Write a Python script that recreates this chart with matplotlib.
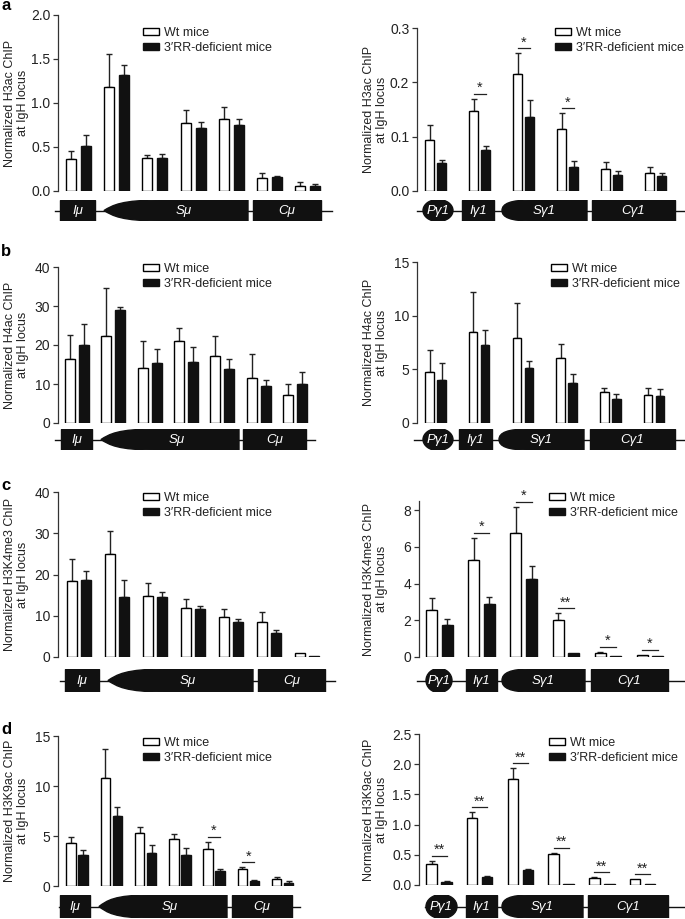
import matplotlib.pyplot as plt
import numpy as np
from matplotlib.patches import Rectangle, Ellipse, PathPatch
from matplotlib.path import Path

plt.rcParams['font.family'] = ['Liberation Sans', 'DejaVu Sans']

W, H = 685, 919

series_labels = ['Wt mice', '3\u2032RR-deficient mice']

# a - H3ac
h3ac_mu_wt = [0.36, 1.18, 0.375, 0.77, 0.82, 0.145, 0.053]
h3ac_mu_wt_err = [0.10, 0.38, 0.03, 0.15, 0.14, 0.065, 0.047]
h3ac_mu_ko = [0.515, 1.32, 0.37, 0.72, 0.755, 0.155, 0.053]
h3ac_mu_ko_err = [0.125, 0.11, 0.05, 0.06, 0.065, 0.012, 0.022]

h3ac_g1_wt = [0.093, 0.147, 0.216, 0.115, 0.040, 0.033]
h3ac_g1_wt_err = [0.028, 0.023, 0.038, 0.028, 0.013, 0.012]
h3ac_g1_ko = [0.052, 0.076, 0.136, 0.045, 0.030, 0.028]
h3ac_g1_ko_err = [0.005, 0.006, 0.032, 0.011, 0.006, 0.006]
h3ac_g1_sig = ['', '*', '*', '*', '', '']

# b - H4ac
h4ac_mu_wt = [16.3, 22.2, 14.2, 21.1, 17.2, 11.5, 7.2]
h4ac_mu_wt_err = [6.2, 12.5, 6.7, 3.3, 5.1, 6.2, 2.8]
h4ac_mu_ko = [19.9, 29.1, 15.5, 15.7, 13.8, 9.5, 9.9]
h4ac_mu_ko_err = [5.5, 0.7, 3.4, 3.8, 2.6, 1.4, 3.2]

h4ac_g1_wt = [4.72, 8.45, 7.89, 6.09, 2.92, 2.61]
h4ac_g1_wt_err = [2.11, 3.75, 3.26, 1.30, 0.34, 0.65]
h4ac_g1_ko = [4.04, 7.27, 5.12, 3.73, 2.27, 2.52]
h4ac_g1_ko_err = [1.55, 1.36, 0.69, 0.80, 0.46, 0.68]

# c - H3K4me3
h3k4_mu_wt = [18.5, 25.0, 14.85, 11.9, 9.8, 8.5, 0.9]
h3k4_mu_wt_err = [5.3, 5.6, 3.15, 2.1, 1.9, 2.3, 0]
h3k4_mu_ko = [18.7, 14.6, 14.6, 11.6, 8.5, 5.9, 0.25]
h3k4_mu_ko_err = [2.1, 4.1, 1.2, 0.8, 0.7, 0.75, 0]

h3k4_g1_wt = [2.58, 5.29, 6.75, 2.0, 0.24, 0.13]
h3k4_g1_wt_err = [0.66, 1.22, 1.45, 0.4, 0.05, 0]
h3k4_g1_ko = [1.75, 2.89, 4.24, 0.24, 0.05, 0.03]
h3k4_g1_ko_err = [0.32, 0.38, 0.74, 0, 0, 0]
h3k4_g1_sig = ['', '*', '*', '**', '*', '*']

# d - H3K9ac
h3k9_mu_wt = [4.28, 10.79, 5.31, 4.68, 3.67, 1.67, 0.67]
h3k9_mu_wt_err = [0.66, 2.91, 0.6, 0.56, 0.77, 0.2, 0.27]
h3k9_mu_ko = [3.07, 6.98, 3.27, 3.07, 1.5, 0.47, 0.3]
h3k9_mu_ko_err = [0.57, 0.94, 0.8, 0.74, 0.24, 0.16, 0.2]
h3k9_mu_sig = ['', '', '', '', '*', '*', '']

h3k9_g1_wt = [0.343, 1.106, 1.753, 0.514, 0.116, 0.10]
h3k9_g1_wt_err = [0.061, 0.105, 0.177, 0.023, 0.017, 0]
h3k9_g1_ko = [0.055, 0.133, 0.249, 0.022, 0.011, 0.011]
h3k9_g1_ko_err = [0.011, 0.011, 0.011, 0, 0, 0]
h3k9_g1_sig = ['**'] * 6

mu_labels = ['I\u03bc', 'S\u03bc', 'C\u03bc']
g1_labels = ['P\u03b31', 'I\u03b31', 'S\u03b31', 'C\u03b31']

TXT = '#222222'
fig = plt.figure(figsize=(W / 100, H / 100), dpi=100)


def px_axes(x0, y0, x1, y1):
    return fig.add_axes([x0 / W, 1 - y1 / H, (x1 - x0) / W, (y1 - y0) / H])


def bar_panel(x0, ytop, ybot, c0, step, bw, off, wt, wt_err, ko, ko_err,
              ytop_val, yticks, fmt, ylabel, label_x, leg_x, leg_y, sig=None):
    n = len(wt)
    left = (x0 - c0) / step
    right = n - 0.5
    ax = px_axes(x0, ytop, x0 + (right - left) * step, ybot)
    x = np.arange(n)
    bwd, offd = bw / step, off / step
    ax.bar(x - offd, wt, bwd, color='white', edgecolor='black', lw=1.0,
           label=series_labels[0], zorder=2)
    ax.bar(x + offd, ko, bwd, color='#111111', edgecolor='#111111', lw=1.0,
           label=series_labels[1], zorder=2)
    for xs, v, e in [(x - offd, wt, wt_err), (x + offd, ko, ko_err)]:
        v, e = np.array(v), np.array(e)
        m = e > 0
        ax.errorbar(xs[m], v[m], yerr=[np.zeros(m.sum()), e[m]], fmt='none',
                    ecolor='#222222', elinewidth=1.0, capsize=2, capthick=1.0,
                    zorder=1)
    ax.set_xlim(left, right)
    ax.set_ylim(0, ytop_val)
    ax.set_yticks(yticks)
    ax.set_yticklabels([fmt.format(t) for t in yticks])
    ax.set_xticks([])
    for s in ['top', 'right', 'bottom']:
        ax.spines[s].set_visible(False)
    ax.spines['left'].set_color('#333333')
    ax.spines['left'].set_linewidth(0.9)
    ax.tick_params(axis='y', direction='out', length=3.5, width=0.9,
                   labelsize=10, pad=2, colors='#333333', labelcolor=TXT)
    ax.set_ylabel(ylabel, fontsize=9, color=TXT, linespacing=1.1)
    ax.yaxis.set_label_coords(label_x / W, 1 - (ytop + ybot) / 2 / H,
                              transform=fig.transFigure)
    ax.legend(loc='upper left', bbox_to_anchor=(leg_x / W, 1 - leg_y / H),
              bbox_transform=fig.transFigure, frameon=False, fontsize=9,
              handlelength=1.25, handleheight=0.55, handletextpad=0.45,
              labelspacing=0.25, borderpad=0, borderaxespad=0,
              labelcolor=TXT)
    if sig:
        dy = 5 * ytop_val / (ybot - ytop)
        for i, s in enumerate(sig):
            if not s:
                continue
            top = max(wt[i] + wt_err[i], ko[i] + ko_err[i])
            y = top + dy
            ax.plot([i - offd, i + offd], [y, y], color='#222222', lw=0.9)
            ax.text(i, y + 0.3 * dy, s, ha='center', va='baseline',
                    fontsize=10.5, color=TXT)
    return ax


def gene_panel(xa, xb, gy0, gy1, line, parts):
    ax = px_axes(xa, gy0, xb, gy1)
    ax.set_xlim(xa, xb)
    ax.set_ylim(-1, 1)
    ax.axis('off')
    ax.plot(line, [0, 0], color='#111111', lw=1.0, zorder=1, clip_on=False)
    for kind, label, s, e in parts:
        L = e - s
        cx = (s + e) / 2
        if kind == 'box':
            ax.add_patch(Rectangle((s, -1), L, 2, color='#111111', zorder=2))
        elif kind == 'oval':
            ax.add_patch(Ellipse((cx, 0), L, 2.1, color='#111111', zorder=2))
        else:
            k = 0.4 if kind == 'switch' else 0.35
            t1, t2 = (0.06, 0.12) if kind == 'switch' else (0.0, 0.1)
            c1 = 0.5 if kind == 'switch' else 0.65
            verts = [(s, 0), (s + t1 * L, c1), (s + t2 * L, 1), (s + k * L, 1),
                     (e, 1), (e, -1), (s + k * L, -1),
                     (s + t2 * L, -1), (s + t1 * L, -c1), (s, 0), (s, 0)]
            codes = [Path.MOVETO, Path.CURVE4, Path.CURVE4, Path.CURVE4,
                     Path.LINETO, Path.LINETO, Path.LINETO,
                     Path.CURVE4, Path.CURVE4, Path.CURVE4, Path.CLOSEPOLY]
            ax.add_patch(PathPatch(Path(verts, codes), color='#111111', zorder=2))
            if kind == 'switch':
                cx = cx + 0.05 * L
        ax.text(cx, -0.05, label, color='white', fontstyle='italic', fontsize=9.5,
                ha='center', va='center', zorder=3)
    return ax


# panel a
bar_panel(58, 15, 191, 78.5, 38.2, 10, 7.5, h3ac_mu_wt, h3ac_mu_wt_err,
          h3ac_mu_ko, h3ac_mu_ko_err, 2.0, [0, 0.5, 1.0, 1.5, 2.0], '{:.1f}',
          'Normalized H3ac ChIP\nat IgH locus', 29, 143, 27)
gene_panel(0, 340, 200, 221, [55, 332],
           [('box', mu_labels[0], 60, 95), ('switch', mu_labels[1], 104, 248),
            ('box', mu_labels[2], 253, 321)])
bar_panel(417, 28, 191, 435.5, 44, 9, 6, h3ac_g1_wt, h3ac_g1_wt_err,
          h3ac_g1_ko, h3ac_g1_ko_err, 0.3, [0, 0.1, 0.2, 0.3], '{:.1f}',
          'Normalized H3ac ChIP\nat IgH locus', 388, 555, 27, h3ac_g1_sig)
gene_panel(340, 685, 200, 221, [417, 685],
           [('oval', g1_labels[0], 423, 453), ('box', g1_labels[1], 462, 494),
            ('sg', g1_labels[2], 502, 587), ('box', g1_labels[3], 592, 675)])

# panel b
bar_panel(58, 267, 423, 77, 36.3, 10, 7, h4ac_mu_wt, h4ac_mu_wt_err,
          h4ac_mu_ko, h4ac_mu_ko_err, 40, [0, 10, 20, 30, 40], '{:.0f}',
          'Normalized H4ac ChIP\nat IgH locus', 29, 143, 263)
gene_panel(0, 340, 429, 450, [55, 315],
           [('box', mu_labels[0], 61, 92), ('switch', mu_labels[1], 101, 239),
            ('box', mu_labels[2], 243, 306)])
bar_panel(417, 262, 423, 435.5, 43.7, 8.5, 6, h4ac_g1_wt, h4ac_g1_wt_err,
          h4ac_g1_ko, h4ac_g1_ko_err, 15, [0, 5, 10, 15], '{:.0f}',
          'Normalized H4ac ChIP\nat IgH locus', 388, 551, 263)
gene_panel(340, 685, 429, 450, [414, 685],
           [('oval', g1_labels[0], 423, 453), ('box', g1_labels[1], 459, 492),
            ('sg', g1_labels[2], 499, 584), ('box', g1_labels[3], 590, 675)])

# panel c
bar_panel(58, 492, 657, 78.5, 38.1, 10, 7, h3k4_mu_wt, h3k4_mu_wt_err,
          h3k4_mu_ko, h3k4_mu_ko_err, 40, [0, 10, 20, 30, 40], '{:.0f}',
          'Normalized H3K4me3 ChIP\nat IgH locus', 29, 143, 492)
gene_panel(0, 340, 669, 692, [60, 335],
           [('box', mu_labels[0], 65, 99), ('switch', mu_labels[1], 108, 253),
            ('box', mu_labels[2], 258, 325)])
bar_panel(419, 501, 657, 439.5, 42.1, 11, 7.8, h3k4_g1_wt, h3k4_g1_wt_err,
          h3k4_g1_ko, h3k4_g1_ko_err, 8.5, [0, 2, 4, 6, 8], '{:.0f}',
          'Normalized H3K4me3 ChIP\nat IgH locus', 388, 549, 492, h3k4_g1_sig)
gene_panel(340, 685, 669, 692, [417, 685],
           [('oval', g1_labels[0], 426, 452), ('box', g1_labels[1], 466, 497),
            ('sg', g1_labels[2], 502, 585), ('box', g1_labels[3], 591, 668)])

# panel d
bar_panel(58, 736, 886, 77, 34.25, 9.5, 6, h3k9_mu_wt, h3k9_mu_wt_err,
          h3k9_mu_ko, h3k9_mu_ko_err, 15, [0, 5, 10, 15], '{:.0f}',
          'Normalized H3K9ac ChIP\nat IgH locus', 29, 143, 737, h3k9_mu_sig)
gene_panel(0, 340, 895, 918, [59, 300],
           [('box', mu_labels[0], 60, 90), ('switch', mu_labels[1], 99, 227),
            ('box', mu_labels[2], 232, 292)])
bar_panel(419, 734, 885, 439, 40.7, 10.5, 7.5, h3k9_g1_wt, h3k9_g1_wt_err,
          h3k9_g1_ko, h3k9_g1_ko_err, 2.5, [0, 0.5, 1.0, 1.5, 2.0, 2.5],
          '{:.1f}', 'Normalized H3K9ac ChIP\nat IgH locus', 388, 549, 737,
          h3k9_g1_sig)
gene_panel(340, 685, 895, 918, [425, 685],
           [('oval', g1_labels[0], 426, 457), ('box', g1_labels[1], 466, 497),
            ('sg', g1_labels[2], 502, 583), ('box', g1_labels[3], 588, 668)])

for letter, y in [('a', 6), ('b', 252), ('c', 486), ('d', 730)]:
    fig.text(1 / W, 1 - y / H, letter, fontsize=12, fontweight='bold',
             va='center', ha='left', color='black')

fig.savefig('out.png', dpi=100)
